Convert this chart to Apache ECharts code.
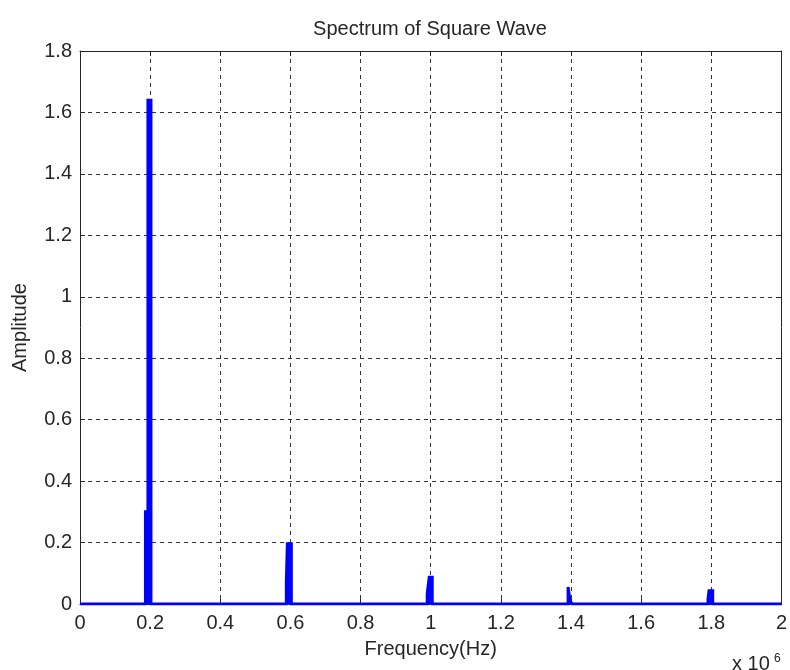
<!DOCTYPE html>
<html>
<head>
<meta charset="utf-8">
<script src="https://cdn.jsdelivr.net/npm/echarts@6/dist/echarts.min.js"></script>
<style>html,body{margin:0;padding:0;background:#fff;}#c{width:790px;height:670px;}</style>
</head>
<body>
<div id="c"></div>
<script>
// Frequency in units of 10^6 Hz
const frequency = [0,
  0.1866, 0.1866, 0.1937, 0.1937, 0.2023, 0.2023,
  0.5883, 0.5883, 0.5912, 0.5912, 0.6026, 0.6026,
  0.9900, 0.9900, 0.9957, 0.9957, 1.0043, 1.0043,
  1.3917, 1.3917, 1.3974, 1.3974, 1.4031, 1.4031,
  1.7906, 1.7906, 1.7934, 1.7934, 1.8040, 1.8040,
  2.0];
const amplitude = [0,
  0, 0.30, 0.30, 1.64, 1.64, 0,
  0, 0.07, 0.07, 0.196, 0.196, 0,
  0, 0.034, 0.034, 0.087, 0.087, 0,
  0, 0.0557, 0.0557, 0.011, 0.011, 0,
  0, 0.015, 0.015, 0.043, 0.043, 0,
  0];
const xTicks = [0, 0.2, 0.4, 0.6, 0.8, 1, 1.2, 1.4, 1.6, 1.8, 2];
const yTicks = [0, 0.2, 0.4, 0.6, 0.8, 1, 1.2, 1.4, 1.6, 1.8];

const FONT = 'Liberation Sans, Arial, sans-serif';
const TXT = '#262626';
const FS = 20;
const data = frequency.map((f, i) => [f, amplitude[i]]);

const chart = echarts.init(document.getElementById('c'));
const dashed = {show: true, lineStyle: {color: '#333', type: [4, 4], width: 1}};
chart.setOption({
  animation: false,
  backgroundColor: '#fff',
  title: {text: 'Spectrum of Square Wave', left: 425, top: 14, textAlign: 'center',
    textStyle: {fontFamily: FONT, fontSize: FS, fontWeight: 'normal', color: TXT}},
  grid: {left: 80, right: 8, top: 51, bottom: 66, containLabel: false},
  xAxis: [{
    type: 'value', min: xTicks[0], max: xTicks[xTicks.length - 1], interval: 0.2,
    name: 'Frequency(Hz)', nameLocation: 'middle', nameGap: 35,
    nameTextStyle: {fontFamily: FONT, fontSize: FS, color: TXT},
    axisLine: {show: true, onZero: false, lineStyle: {color: TXT, width: 1}},
    axisTick: {show: true, inside: true, length: 5, lineStyle: {color: TXT}},
    axisLabel: {fontFamily: FONT, fontSize: FS, color: TXT, margin: 9,
      formatter: v => String(+v.toFixed(1))},
    splitLine: dashed
  }, {
    type: 'value', position: 'top', min: 0, max: 2, interval: 0.2,
    axisLine: {show: true, onZero: false, lineStyle: {color: TXT, width: 1}},
    axisTick: {show: true, inside: true, length: 5, lineStyle: {color: TXT}},
    axisLabel: {show: false}, splitLine: {show: false}
  }],
  yAxis: [{
    type: 'value', min: yTicks[0], max: yTicks[yTicks.length - 1], interval: 0.2,
    name: 'Amplitude', nameLocation: 'middle', nameGap: 50, nameRotate: 90,
    nameTextStyle: {fontFamily: FONT, fontSize: FS, color: TXT},
    axisLine: {show: true, onZero: false, lineStyle: {color: TXT, width: 1}},
    axisTick: {show: true, inside: true, length: 5, lineStyle: {color: TXT}},
    axisLabel: {fontFamily: FONT, fontSize: FS, color: TXT, margin: 8,
      formatter: v => String(+v.toFixed(1))},
    splitLine: dashed
  }, {
    type: 'value', position: 'right', min: 0, max: 1.8, interval: 0.2,
    axisLine: {show: true, onZero: false, lineStyle: {color: TXT, width: 1}},
    axisTick: {show: true, inside: true, length: 5, lineStyle: {color: TXT}},
    axisLabel: {show: false}, splitLine: {show: false}
  }],
  series: [{
    type: 'line', data: data, showSymbol: false, symbol: 'none',
    lineStyle: {color: '#0000ff', width: 3, join: 'miter', cap: 'butt'},
    areaStyle: {color: '#0000ff', opacity: 1, origin: 'start'},
    itemStyle: {color: '#0000ff'}, clip: true, z: 5
  }],
  graphic: [
    {type: 'text', left: 732, top: 654, style: {text: 'x 10', font: FS + 'px ' + FONT, fill: TXT}},
    {type: 'text', left: 774, top: 653, style: {text: '6', font: '12px ' + FONT, fill: TXT}}
  ]
});
</script>
</body>
</html>
